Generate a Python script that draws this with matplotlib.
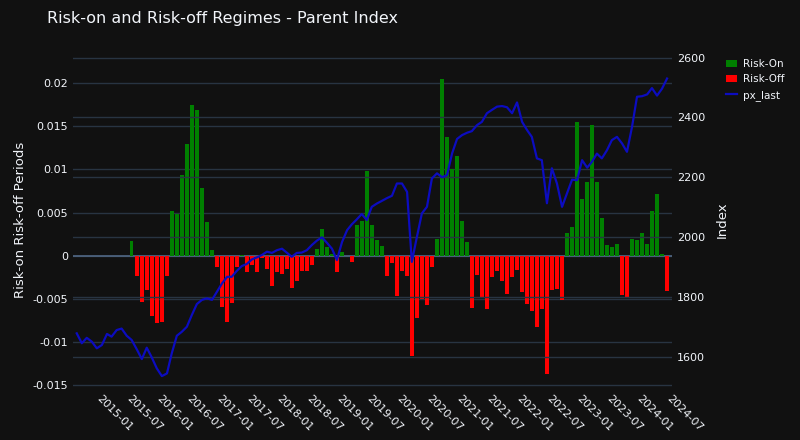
import matplotlib
matplotlib.use("Agg")
import matplotlib.pyplot as plt
import matplotlib.transforms as mtransforms
import pandas as pd
import numpy as np

start = "2014-08-01"
regime = [0.0]*11 + [
    0.0017,-0.0023,-0.0053,-0.0040,-0.0070,-0.0078,-0.0077,-0.0023,
    0.0052,0.0049,0.0094,0.0130,0.0175,0.0169,0.0079,0.0039,0.0007,
    -0.0013,-0.0059,-0.0077,-0.0054,-0.0013,
    0.0001,-0.0019,-0.0011,-0.0019,-0.0003,
    -0.0015,-0.0035,-0.0019,-0.0021,-0.0015,
    -0.0037,-0.0029,-0.0018,-0.0018,-0.0010,
    0.0008,0.0031,0.0010,0.0002,
    -0.0019,0.0004,0.0,-0.0007,
    0.0036,0.0040,0.0098,
    0.0036,0.0018,0.0011,-0.0023,-0.0008,-0.0047,-0.0018,-0.0023,-0.0116,-0.0072,
    -0.0050,-0.0057,-0.0013,0.0020,0.0205,0.0137,0.0100,0.0115,0.0040,0.0016,
    -0.0060,-0.0022,-0.0049,-0.0061,-0.0024,-0.0018,-0.0029,-0.0044,-0.0025,-0.0016,
    -0.0042,-0.0056,-0.0064,-0.0082,-0.0061,-0.0137,-0.0039,-0.0038,-0.0051,0.0027,
    0.0033,0.0155,0.0066,0.0085,0.0151,0.0086,0.0044,0.0013,0.0010,0.0014,
    -0.0045,-0.0049,0.0020,0.0018,0.0027,0.0014,0.0052,0.0072,0.0002,-0.0041,
]
px_last = [
    1678,1645,1663,1650,1628,1639,1676,1667,1689,1694,
    1670,1656,1625,1592,1630,1597,1561,1535,1544,1611,
    1670,1683,1700,1739,1776,1790,1795,1790,1817,1845,
    1867,1867,1887,1903,1910,1925,1932,1940,1951,1947,
    1956,1961,1947,1934,1947,1948,1956,1973,1988,1999,
    1981,1961,1923,1983,2023,2042,2059,2077,2057,2101,
    2112,2121,2130,2138,2179,2179,2151,1917,2001,2079,
    2101,2196,2213,2200,2207,2280,2328,2341,2349,2354,
    2374,2385,2414,2425,2436,2438,2434,2414,2450,2385,
    2357,2335,2263,2257,2113,2230,2179,2101,2146,2192,
    2190,2257,2232,2251,2279,2263,2290,2324,2335,2313,
    2285,2369,2469,2471,2477,2498,2473,2496,2530,
]

bar_dates = pd.date_range(start, periods=len(regime), freq="MS")
line_dates = pd.date_range(start, periods=len(px_last), freq="MS")
reg = np.array(regime)
pos = np.where(reg > 0, reg, 0)
neg = np.where(reg < 0, reg, 0)

bg = "#111111"
grid = "#283442"
fig = plt.figure(figsize=(8, 4.4), dpi=100, facecolor=bg)
ax = fig.add_axes([0.091, 0.118, 0.749, 0.764], facecolor=bg)
ax2 = ax.twinx()

ax.bar(bar_dates, pos, width=22, color="green", label="Risk-On", zorder=2)
ax.bar(bar_dates, neg, width=22, color="red", label="Risk-Off", zorder=2)
ax2.plot(line_dates, px_last, color="#0c0cc0", lw=1.6, label="px_last")

ax.set_ylim(-0.0153, 0.0236)
ax2.set_ylim(1495, 2619)
ax.set_xlim(pd.Timestamp("2014-07-08"), pd.Timestamp("2024-07-01"))
ax.set_yticks([-0.015, -0.01, -0.005, 0, 0.005, 0.01, 0.015, 0.02])
ax.set_yticklabels(["-0.015", "-0.01", "-0.005", "0", "0.005", "0.01", "0.015", "0.02"])
ax2.set_yticks([1600, 1800, 2000, 2200, 2400, 2600])

xt = pd.date_range("2015-01-01", "2024-07-01", freq="6MS")
ax.set_xticks(xt)
ax.set_xticklabels([d.strftime("%Y-%m") for d in xt], rotation=-45, ha="left",
                   rotation_mode="anchor")
offset = mtransforms.ScaledTranslation(-12/100, 0, fig.dpi_scale_trans)
for lab in ax.get_xticklabels():
    lab.set_transform(lab.get_transform() + offset)

for a in (ax, ax2):
    for s in a.spines.values():
        s.set_visible(False)
    a.tick_params(colors="#f2f5fa", labelsize=8, length=0)
    a.grid(axis="y", color=grid, lw=1)
ax.set_axisbelow(True)
ax.axhline(0, color="#506784", lw=1.2, zorder=1)
ax.set_ylabel("Risk-on Risk-off Periods", color="#f2f5fa", fontsize=9.5)
ax2.set_ylabel("Index", color="#f2f5fa", fontsize=9.5, labelpad=8)

fig.text(0.059, 0.958, "Risk-on and Risk-off Regimes - Parent Index", color="#f2f5fa",
         fontsize=11.5, va="center")
h1, l1 = ax.get_legend_handles_labels()
h2, l2 = ax2.get_legend_handles_labels()
leg = fig.legend(h1 + h2, l1 + l2, loc="upper left", bbox_to_anchor=(0.905, 0.87),
                 frameon=False, fontsize=7.5, labelcolor="#f2f5fa", handlelength=1.0,
                 handletextpad=0.6, borderaxespad=0, borderpad=0.2)
fig.savefig("out.png", dpi=100, facecolor=bg)
